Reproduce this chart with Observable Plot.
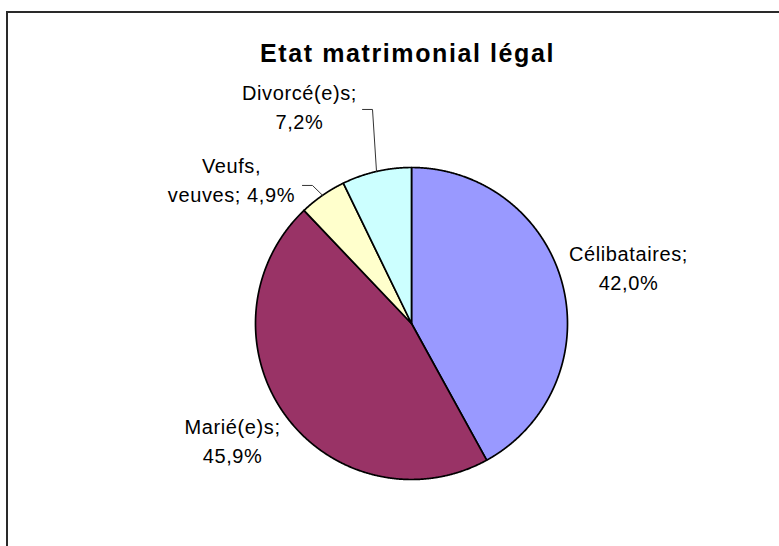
<!DOCTYPE html>
<html><head><meta charset="utf-8">
<script src="https://cdn.jsdelivr.net/npm/d3@7"></script>
<script src="https://cdn.jsdelivr.net/npm/@observablehq/plot@0.6"></script>
<style>
html,body{margin:0;padding:0;background:#fff;overflow:hidden;}
#wrap{position:relative;width:779px;height:546px;overflow:hidden;}
#frame{position:absolute;left:6px;top:11px;width:900px;height:700px;border-left:2px solid #2a2a2a;border-top:2px solid #2a2a2a;pointer-events:none;}
</style></head><body>
<div id="wrap"><div id="chart"></div><div id="frame"></div></div>
<script>
const title = "Etat matrimonial légal";
const categories = ["Célibataires", "Marié(e)s", "Veufs, veuves", "Divorcé(e)s"];
const values = [42.0, 45.9, 4.9, 7.2];
const labels = ["Célibataires;\n42,0%", "Marié(e)s;\n45,9%", "Veufs,\nveuves; 4,9%", "Divorcé(e)s;\n7,2%"];
const colors = ["#9999FF", "#993366", "#FFFFCC", "#CCFFFF"];

// layout, in pie-radius units relative to the pie centre (y up)
const labelOffsets = [[1.391, 0.212], [-1.147, -0.897], [-1.154, 0.776], [-0.718, 1.25]];
const leaderElbows = [null, null, [[-0.699, 0.885], [-0.635, 0.885]], [[-0.314, 1.372], [-0.25, 1.372]]];

const data = categories.map((c, i) => ({name: c, value: values[i], label: labels[i], color: colors[i]}));
const arcs = d3.pie().sort(null).value(d => d.value).startAngle(0).endAngle(2 * Math.PI)(data);
const pt = a => ({x: Math.sin(a), y: Math.cos(a)});

const slices = arcs.map(a => {
  const pts = [{x: 0, y: 0}];
  const n = Math.max(2, Math.ceil((a.endAngle - a.startAngle) / (Math.PI / 720)));
  for (let k = 0; k <= n; k++) pts.push(pt(a.startAngle + (a.endAngle - a.startAngle) * k / n));
  pts.push({x: 0, y: 0});
  return {color: a.data.color, name: a.data.name, pts};
});

const leaders = [];
arcs.forEach((a, i) => {
  if (!leaderElbows[i]) return;
  const mid = pt((a.startAngle + a.endAngle) / 2);
  leaderElbows[i].forEach(([x, y]) => leaders.push({name: a.data.name, x, y}));
  leaders.push({name: a.data.name, x: mid.x, y: mid.y});
});

const labelData = data.map((d, i) => ({text: d.label, x: labelOffsets[i][0], y: labelOffsets[i][1]}));

const chart = Plot.plot({
  width: 779, height: 546, margin: 0,
  x: {type: "linear", domain: [-1, 1], range: [255, 567], axis: null},
  y: {type: "linear", domain: [-1, 1], range: [479, 167], axis: null},
  style: {fontFamily: "'Liberation Sans', Arial, sans-serif", background: "white", color: "black"},
  marks: [
    ...slices.map(s => Plot.line(s.pts, {x: "x", y: "y", fill: s.color, stroke: "black", strokeWidth: 1.7, strokeLinejoin: "round"})),
    Plot.line(leaders, {x: "x", y: "y", z: "name", stroke: "#333", strokeWidth: 1}),
    Plot.text(labelData, {x: "x", y: "y", text: "text", fontSize: 20, lineAnchor: "bottom", lineHeight: 1.45, textAnchor: "middle", fill: "black", className: "lbl"}),
    Plot.text([title], {x: () => 0, frameAnchor: "top", dy: 61, dx: -4, text: d => d, fontSize: 25, fontWeight: "bold", lineAnchor: "bottom", textAnchor: "middle", fill: "black", className: "ttl"})
  ]
});
document.getElementById("chart").appendChild(chart);
d3.select(chart).selectAll(".lbl text").attr("letter-spacing", "0.6px");
d3.select(chart).selectAll(".ttl text").attr("letter-spacing", "1.6px");
</script>
</body></html>
